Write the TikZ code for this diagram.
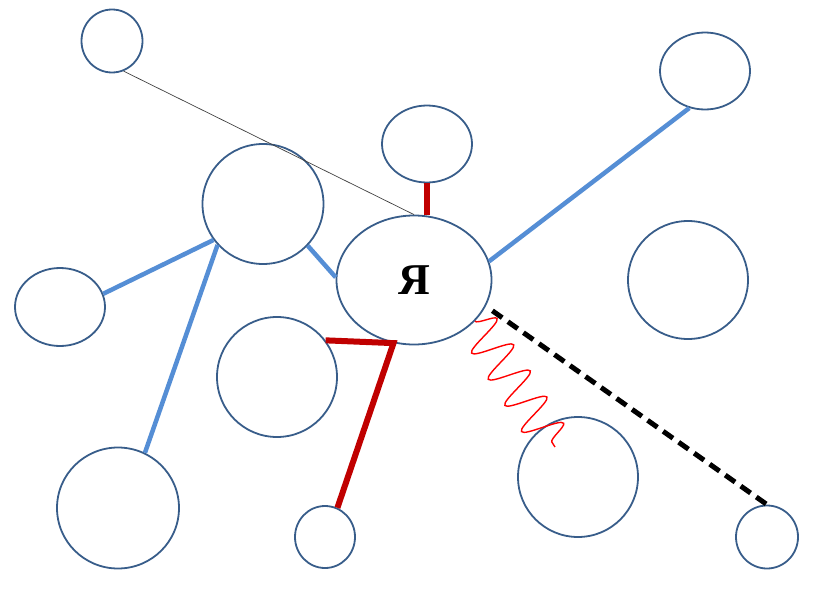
\documentclass[tikz,border=0pt]{standalone}
\usepackage{fontspec}
\setmainfont{Liberation Serif}
\usetikzlibrary{shapes.geometric,decorations.pathmorphing,calc}
\definecolor{ringblue}{RGB}{56,93,138}
\definecolor{linkblue}{RGB}{85,142,213}
\definecolor{darkred}{RGB}{192,0,0}

\begin{document}
\begin{tikzpicture}[
  x=1pt,y=-1pt,
  person/.style={ellipse,draw=ringblue,line width=1.8pt,inner sep=0pt},
  link/.style={linkblue,line width=4.5pt},
  bond/.style={darkred,line width=6pt}
]
  \useasboundingbox (0,0) rectangle (816,613);
  \node[person,minimum width=61pt,minimum height=63pt]  (far)    at (112,41)  {};
  \node[person,minimum width=121pt,minimum height=120pt] (big)   at (263,204) {};
  \node[person,minimum width=90pt,minimum height=77pt]  (top)    at (427,144) {};
  \node[person,minimum width=90pt,minimum height=77pt]  (tr)     at (705,71)  {};
  \node[person,minimum width=120pt,minimum height=118pt] (right) at (688,280) {};
  \node[person,minimum width=90pt,minimum height=78pt]  (left)   at (60,307)  {};
  \node[person,minimum width=120pt,minimum height=120pt] (mid)   at (277,377) {};
  \node[person,minimum width=122pt,minimum height=121pt] (bl)    at (118,508) {};
  \node[person,minimum width=60pt,minimum height=62pt]  (small)  at (325,537) {};
  \node[person,minimum width=120pt,minimum height=120pt] (br)    at (578,477) {};
  \node[person,minimum width=62pt,minimum height=63pt]  (corner) at (767,537) {};
  \node[person,minimum width=155pt,minimum height=129pt,
        font=\bfseries\fontsize{44}{44}\selectfont] (me) at (414,280) {Я};

  \draw[black!75,line width=0.7pt] (far.291) -- (me.north);
  \draw[bond] (top.south) -- (top.south |- me.north);
  \foreach \a/\b in {me.14/tr.247,big.317/me.178,big.216/left.17,big.222/bl.64}{
    \draw[link] (\a) -- (\b);
  }
  \draw[bond,line join=miter] (mid.37) -- (me.252) -- (small.67);
  \coordinate (wend) at ($(br.center)+(-23,-30)$);
  \draw[red,line width=1.4pt,decorate,
        decoration={snake,amplitude=20pt,segment length=31pt}] (me.326) -- (wend);
  \draw[black,line width=5pt,dash pattern=on 12pt off 7pt,shorten <=8pt] (me.340) -- (corner.north);
\end{tikzpicture}
\end{document}
